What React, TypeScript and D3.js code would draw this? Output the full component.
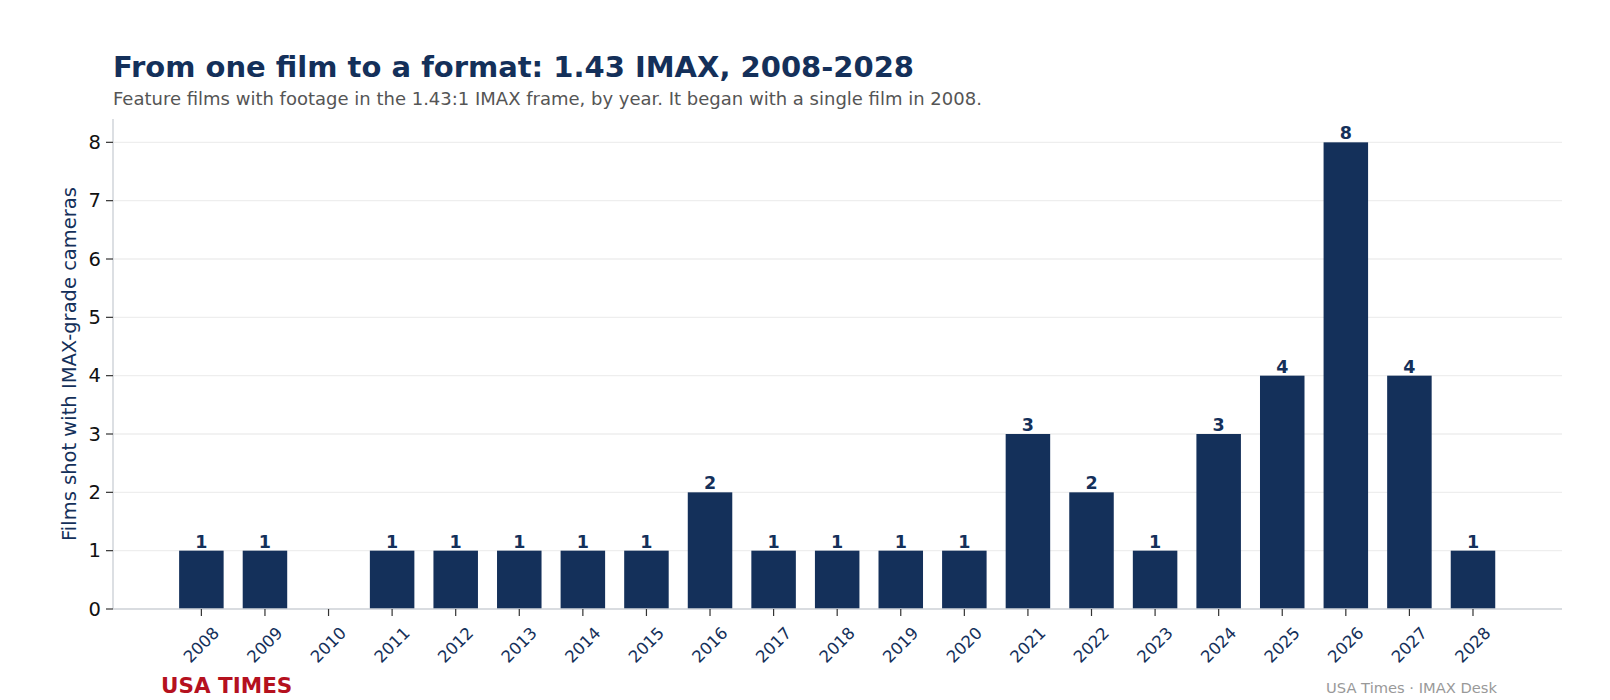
import * as d3 from "d3";

const years = [
  "2008", "2009", "2010", "2011", "2012", "2013", "2014", "2015", "2016", "2017",
  "2018", "2019", "2020", "2021", "2022", "2023", "2024", "2025", "2026", "2027", "2028",
];
const films = [1, 1, 0, 1, 1, 1, 1, 1, 2, 1, 1, 1, 1, 3, 2, 1, 3, 4, 8, 4, 1];
const yTicks = [0, 1, 2, 3, 4, 5, 6, 7, 8];

const title = "From one film to a format: 1.43 IMAX, 2008-2028";
const subtitle = "Feature films with footage in the 1.43:1 IMAX frame, by year. It began with a single film in 2008.";
const yLabel = "Films shot with IMAX-grade cameras";

const W = 1610;
const H = 700;
const left = 113;
const right = 1562;
const top = 119;
const bottom = 609;
const navy = "#14305a";
const font = "'DejaVu Sans', sans-serif";

export default function App() {
  // index-based x like matplotlib, with its default margins
  const x = d3.scaleLinear().domain([-1.39, years.length - 1 + 1.4]).range([left, right]);
  const y = d3.scaleLinear().domain([0, 8.4]).range([bottom, top]);
  const step = x(1) - x(0);
  const barW = step * 0.7;

  return (
    <svg width={W} height={H} style={{ position: "absolute", left: 0, top: 0, fontFamily: font }}>
      <rect width={W} height={H} fill="#ffffff" />

      {/* Title + subtitle */}
      <text x={left} y={77} fontSize={29} fontWeight="bold" fill={navy}>
        {title}
      </text>
      <text x={left} y={105} fontSize={18} fill="#555555">
        {subtitle}
      </text>

      {/* Grid */}
      {yTicks.map((t) => (
        <line key={t} x1={left} x2={right} y1={y(t)} y2={y(t)} stroke="#eeeeee" strokeWidth={1.3} />
      ))}

      {/* Bars */}
      {films.map((v, i) =>
        v > 0 ? (
          <rect key={i} x={x(i) - barW / 2} y={y(v)} width={barW} height={y(0) - y(v)} fill={navy} />
        ) : null
      )}

      {/* Value labels */}
      {films.map((v, i) =>
        v > 0 ? (
          <text key={i} x={x(i)} y={y(v) - 3} textAnchor="middle" fontSize={17.5} fontWeight="bold" fill={navy}>
            {v}
          </text>
        ) : null
      )}

      {/* Axes lines */}
      <line x1={left} x2={left} y1={top} y2={bottom} stroke="#d0d4da" strokeWidth={1.5} />
      <line x1={left} x2={right} y1={bottom} y2={bottom} stroke="#d0d4da" strokeWidth={1.5} />

      {/* Y ticks */}
      {yTicks.map((t) => (
        <g key={t}>
          <line x1={left - 7} x2={left} y1={y(t)} y2={y(t)} stroke="#333333" strokeWidth={1.2} />
          <text x={left - 12} y={y(t)} dy="0.35em" textAnchor="end" fontSize={19.5} fill="#111111">
            {t}
          </text>
        </g>
      ))}

      {/* X ticks */}
      {years.map((yr, i) => (
        <g key={yr}>
          <line x1={x(i)} x2={x(i)} y1={bottom} y2={bottom + 7} stroke="#333333" strokeWidth={1.2} />
          <text
            transform={`translate(${x(i)},${645}) rotate(-45)`}
            textAnchor="middle"
            dominantBaseline="central"
            fontSize={16.5}
            fill={navy}
          >
            {yr}
          </text>
        </g>
      ))}

      {/* Y label */}
      <text
        transform={`translate(${69},${(top + bottom) / 2}) rotate(-90)`}
        textAnchor="middle"
        dominantBaseline="central"
        fontSize={19.5}
        fill={navy}
      >
        {yLabel}
      </text>

      {/* Footer */}
      <text x={161} y={693} fontSize={21.5} fontWeight="bold" fill="#b5111e">
        USA TIMES
      </text>
      <text x={1497} y={693} textAnchor="end" fontSize={14.7} fill="#999999">
        USA Times · IMAX Desk
      </text>
    </svg>
  );
}
